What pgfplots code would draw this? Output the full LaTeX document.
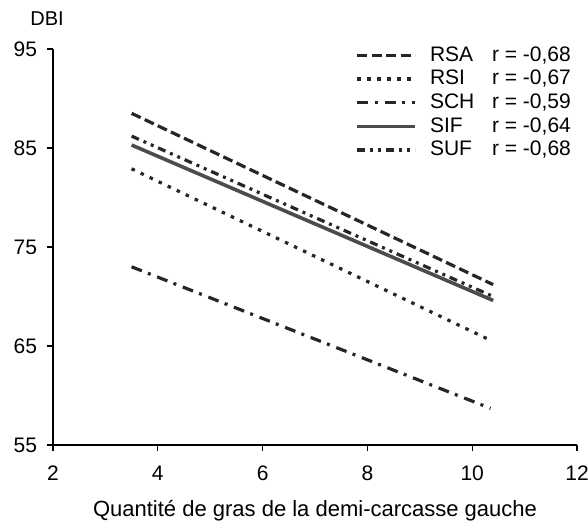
\documentclass[border=0pt]{standalone}
\usepackage{fontspec}
\setmainfont{Liberation Sans}
\usepackage{pgfplots}
\pgfplotsset{compat=1.18}

\begin{document}
\begin{tikzpicture}
% page = 588 x 523 px at 0.5pt per px, axis origin at px (53,445)
\path[use as bounding box] (-26.5pt,-39pt) rectangle (267.5pt,222.5pt);
\begin{axis}[
  at={(0,0)}, anchor=south west,
  scale only axis,
  width=262pt, height=198pt,
  xmin=2, xmax=12, ymin=55, ymax=95,
  xtick={2,4,...,12}, ytick={55,65,...,95},
  axis x line=bottom, axis y line=left,
  axis line style={-, line width=0.7pt},
  tick align=outside,
  major tick length=3pt,
  tick style={black, line width=0.6pt},
  /pgf/number format/assume math mode=true,
  ticklabel style={font=\fontsize{10.5}{12}\selectfont},
  xticklabel style={yshift=-4pt},
  yticklabel style={xshift=-1.5pt},
  xlabel={Quantité de gras de la demi-carcasse gauche},
  xlabel style={font=\fontsize{11}{13}\selectfont, at={(axis cs:7.0,55)}, anchor=center, yshift=-33pt},
  legend cell align=left,
  legend style={draw=none, fill=none, at={(rel axis cs:0.565,1.025)}, anchor=north west,
    font=\fontsize{10.5}{12}\selectfont, row sep=0pt, column sep=5pt,
    nodes={inner sep=1.5pt}},
  legend image code/.code={\draw[#1] (0pt,0pt) -- (29pt,0pt);},
  every axis plot/.append style={line cap=butt},
  clip=false,
]
\addplot[black!85, line width=1.6pt, dash pattern=on 5pt off 2.25pt]
  coordinates {(3.5,88.5) (10.4,71.2)};
\addlegendentry{\makebox[31pt][l]{RSA}r = -0,68}
\addplot[black!85, line width=1.6pt, dash pattern=on 1.75pt off 3.25pt]
  coordinates {(3.5,82.9) (10.3,65.7)};
\addlegendentry{\makebox[31pt][l]{RSI}r = -0,67}
\addplot[black!85, line width=1.6pt, dash pattern=on 5.5pt off 3.25pt on 1.5pt off 3.5pt]
  coordinates {(3.5,73.0) (10.35,58.7)};
\addlegendentry{\makebox[31pt][l]{SCH}r = -0,59}
\addplot[black!70, line width=1.8pt]
  coordinates {(3.5,85.3) (10.4,69.6)};
\addlegendentry{\makebox[31pt][l]{SIF}r = -0,64}
\addplot[black!85, line width=1.6pt, dash pattern=on 4pt off 2.5pt on 1.5pt off 2.5pt on 1.5pt off 2.5pt]
  coordinates {(3.5,86.2) (10.4,70.0)};
\addlegendentry{\makebox[31pt][l]{SUF}r = -0,68}
\node[font=\fontsize{10}{12}\selectfont] at (rel axis cs:0,1) [xshift=-3pt, yshift=15pt] {DBI};
\end{axis}
\end{tikzpicture}
\end{document}
